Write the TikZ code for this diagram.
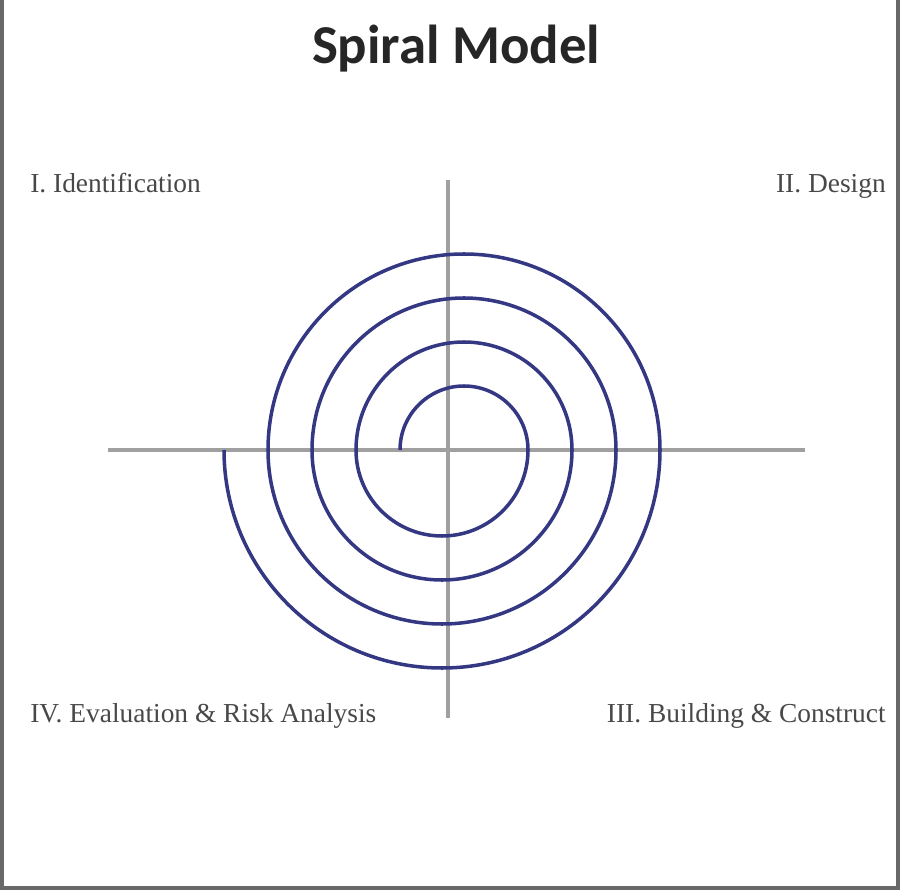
\documentclass[tikz,border=0pt]{standalone}
\usepackage{fontspec}
\setmainfont{Liberation Serif}
\newfontfamily\titlefont{Carlito}
\definecolor{spiralblue}{RGB}{52, 56, 130}
\definecolor{axisgray}{RGB}{160, 160, 160}
\definecolor{labelgray}{RGB}{72, 72, 72}
\definecolor{framegray}{RGB}{105, 105, 105}
\usetikzlibrary{positioning}
\tikzset{
	spiralline/.style={draw=spiralblue, line width=2.5pt},
	quadaxis/.style={draw=axisgray, line width=2.6pt},
	phase/.style={font=\fontsize{19.5}{22}\selectfont, text=labelgray, inner sep=0pt},
	modeltitle/.style={font=\titlefont\bfseries\fontsize{39}{44}\selectfont, text=black!85, inner sep=0pt},
	pageframe/.style={draw=framegray, line width=3pt},
}

\begin{document}
\begin{tikzpicture}[x=0.025cm, y=0.025cm]
		\useasboundingbox (0,0) rectangle (900,890);
		\draw[pageframe] (2,890) -- (2,2) -- (898,2) -- (898,890);
		\node[modeltitle, anchor=base] (title) at (456,826) {Spiral Model};
		\coordinate (origin) at (448,440);
		\draw[quadaxis] (108,440) -- (805,440);
		\draw[quadaxis] (448,172) -- (448,710);
		\draw[spiralline] (400,440) arc(180:0:64) arc(0:-180:86) arc(180:0:108) arc(0:-180:130)
			arc(180:0:152) arc(0:-180:174) arc(180:0:196) arc(0:-180:218);
		\node[phase, anchor=base west] (ident) at (30,697) {I. Identification};
		\node[phase, anchor=base east] (design) at (886,697) {II. Design};
		\node[phase, anchor=base east] (build) at (886,168) {III. Building \& Construct};
		\node[phase, anchor=base west] (eval) at (30,168) {IV. Evaluation \& Risk Analysis};
	\end{tikzpicture}
\end{document}
